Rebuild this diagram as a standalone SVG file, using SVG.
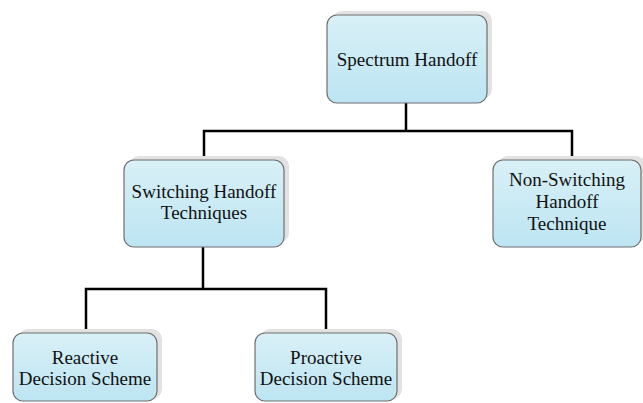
<svg xmlns="http://www.w3.org/2000/svg" width="643" height="403" viewBox="0 0 643 403">
<defs>
<linearGradient id="fill" x1="0" y1="0" x2="0" y2="1">
<stop offset="0" stop-color="#d9f0f7"/>
<stop offset="1" stop-color="#bce5f2"/>
</linearGradient>
</defs>
<style>
.box{fill:url(#fill);stroke:#6f6f6f;stroke-width:1.2}
.shadow{fill:#e2e2e2}
.lbl{font-family:"Liberation Serif","Times New Roman",serif;font-size:19px;fill:#111;text-anchor:middle}
.conn{fill:none;stroke:#000;stroke-width:2.5}
</style>
<rect width="643" height="403" fill="#fff"/>
<g id="connectors">
<polyline class="conn" points="406,103 406,131"/>
<polyline class="conn" points="204,160 204,131 572,131 572,160"/>
<polyline class="conn" points="203,247 203,289"/>
<polyline class="conn" points="86,333 86,289 326,289 326,333"/>
</g>
<g id="spectrum-handoff">
<rect class="shadow" x="332" y="11" width="160" height="88" rx="10"/>
<rect class="box" x="327" y="15" width="160" height="88" rx="10"/>
<text class="lbl" x="407" y="66">Spectrum Handoff</text>
</g>
<g id="switching-handoff">
<rect class="shadow" x="129" y="156" width="160" height="87" rx="10"/>
<rect class="box" x="124" y="160" width="160" height="87" rx="10"/>
<text class="lbl" x="204" y="198">Switching Handoff</text>
<text class="lbl" x="204" y="219">Techniques</text>
</g>
<g id="non-switching-handoff">
<rect class="shadow" x="498" y="156" width="148" height="87" rx="10"/>
<rect class="box" x="493" y="160" width="148" height="87" rx="10"/>
<text class="lbl" x="567" y="186">Non-Switching</text>
<text class="lbl" x="567" y="208">Handoff</text>
<text class="lbl" x="567" y="230">Technique</text>
</g>
<g id="reactive">
<rect class="shadow" x="18" y="329" width="144" height="70" rx="10"/>
<rect class="box" x="13" y="333" width="144" height="68" rx="10"/>
<text class="lbl" x="85" y="364">Reactive</text>
<text class="lbl" x="85" y="385">Decision Scheme</text>
</g>
<g id="proactive">
<rect class="shadow" x="260" y="329" width="142" height="70" rx="10"/>
<rect class="box" x="255" y="333" width="142" height="68" rx="10"/>
<text class="lbl" x="326" y="364">Proactive</text>
<text class="lbl" x="326" y="385">Decision Scheme</text>
</g>
</svg>
